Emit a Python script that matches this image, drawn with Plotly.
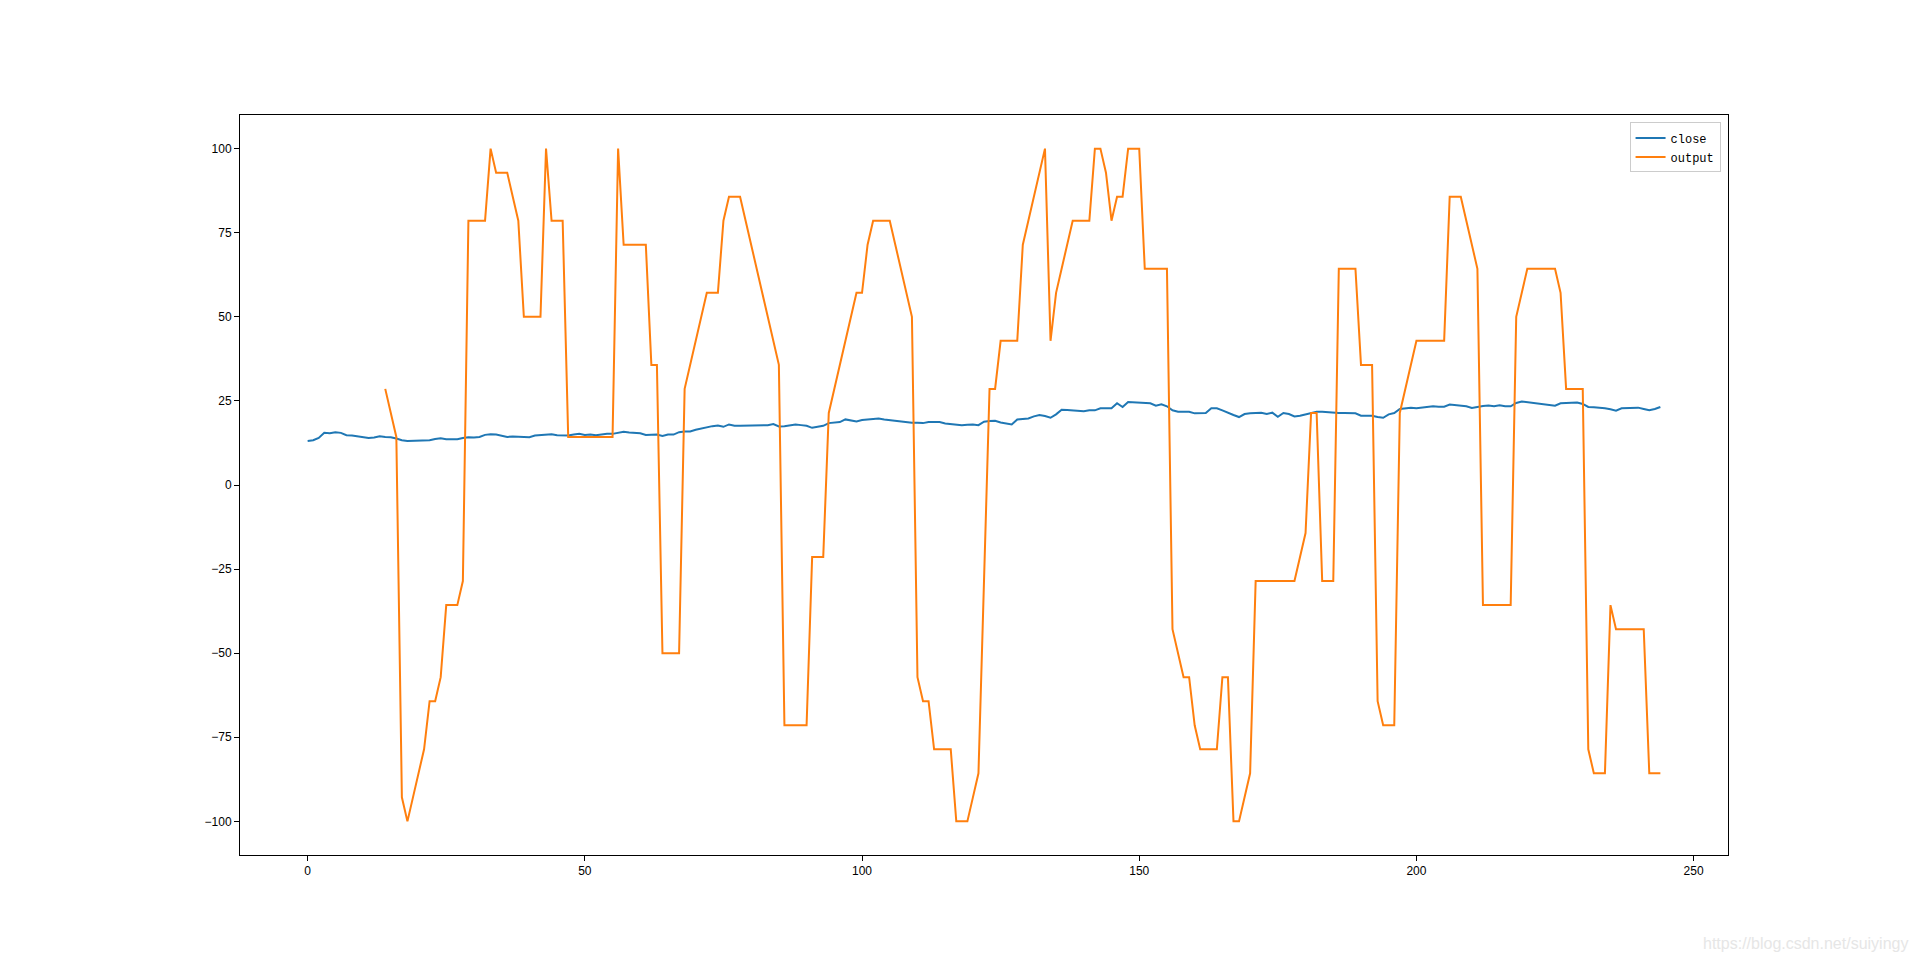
import plotly.graph_objects as go

close_x = list(range(0, 245))
close = [
    13.1, 13.3, 14.0, 15.5, 15.4, 15.7, 15.5, 14.8, 14.7, 14.5,
    14.2, 14.0, 14.1, 14.5, 14.3, 14.2, 13.8, 13.3, 13.1, 13.2,
    13.3, 13.2, 13.3, 13.7, 13.9, 13.6, 13.7, 13.6, 14.0, 14.2,
    14.1, 14.3, 14.9, 15.1, 15.0, 14.6, 14.3, 14.4, 14.4, 14.3,
    14.2, 14.7, 14.8, 14.9, 15.1, 14.8, 14.7, 14.7, 15.0, 15.2,
    14.9, 15.0, 14.8, 15.1, 15.2, 15.2, 15.5, 15.8, 15.6, 15.4,
    15.4, 14.9, 15.0, 15.0, 14.6, 15.0, 15.0, 15.7, 15.9, 15.9,
    16.4, 16.8, 17.3, 17.5, 17.7, 17.3, 18.0, 17.6, 17.6, 17.6,
    17.7, 17.7, 17.6, 17.8, 18.1, 17.4, 17.5, 17.7, 18.0, 17.8,
    17.6, 17.0, 17.2, 17.6, 18.4, 18.6, 18.7, 19.5, 19.2, 18.9,
    19.3, 19.5, 19.5, 19.8, 19.5, 19.3, 19.0, 18.7, 18.6, 18.5,
    18.5, 18.4, 18.7, 18.6, 18.7, 18.3, 18.1, 17.9, 17.8, 17.9,
    18.0, 17.8, 18.8, 19.0, 19.1, 18.6, 18.3, 18.0, 19.5, 19.6,
    19.8, 20.4, 20.8, 20.5, 20.0, 21.0, 22.4, 22.3, 22.2, 22.0,
    21.9, 22.2, 22.2, 22.8, 22.7, 22.8, 24.3, 23.2, 24.7, 24.6,
    24.5, 24.6, 24.3, 23.6, 24.0, 23.4, 22.2, 21.8, 21.9, 21.8,
    21.3, 21.4, 21.4, 22.8, 22.8, 22.2, 21.4, 20.8, 20.2, 21.1,
    21.3, 21.4, 21.5, 21.1, 21.5, 20.3, 21.4, 21.1, 20.4, 20.6,
    21.0, 21.4, 21.8, 21.8, 21.6, 21.4, 21.4, 21.4, 21.4, 21.3,
    20.6, 20.6, 20.6, 20.2, 20.0, 21.0, 21.4, 22.6, 22.9, 23.0,
    22.8, 23.0, 23.2, 23.4, 23.3, 23.3, 23.9, 23.7, 23.4, 23.4,
    22.9, 23.3, 23.5, 23.6, 23.4, 23.7, 23.4, 23.4, 24.4, 24.8,
    24.6, 24.4, 24.1, 23.9, 23.9, 23.6, 24.3, 24.3, 24.4, 24.5,
    24.1, 23.2, 23.1, 23.0, 22.8, 22.5, 22.1, 22.8, 22.8, 22.8,
    23.0, 22.6, 22.2, 22.6, 23.2,
]

output_x = list(range(14, 245))
output = [
    28.57, 21.43, 14.29, -92.86, -100.0, -92.86, -85.71, -78.57, -64.29, -64.29,    # 14-23
    -57.14, -35.71, -35.71, -35.71, -28.57, 78.57, 78.57, 78.57, 78.57, 100.0,      # 24-33
    92.86, 92.86, 92.86, 85.71, 78.57, 50.0, 50.0, 50.0, 50.0, 100.0,               # 34-43
    78.57, 78.57, 78.57, 14.29, 14.29, 14.29, 14.29, 14.29, 14.29, 14.29,           # 44-53
    14.29, 14.29, 100.0, 71.43, 71.43, 71.43, 71.43, 71.43, 35.71, 35.71,           # 54-63
    -50.0, -50.0, -50.0, -50.0, 28.57, 35.71, 42.86, 50.0, 57.14, 57.14,            # 64-73
    57.14, 78.57, 85.71, 85.71, 85.71, 78.57, 71.43, 64.29, 57.14, 50.0,            # 74-83
    42.86, 35.71, -71.43, -71.43, -71.43, -71.43, -71.43, -21.43, -21.43, -21.43,   # 84-93
    21.43, 28.57, 35.71, 42.86, 50.0, 57.14, 57.14, 71.43, 78.57, 78.57,            # 94-103
    78.57, 78.57, 71.43, 64.29, 57.14, 50.0, -57.14, -64.29, -64.29, -78.57,        # 104-113
    -78.57, -78.57, -78.57, -100.0, -100.0, -100.0, -92.86, -85.71, -28.57, 28.57,  # 114-123
    28.57, 42.86, 42.86, 42.86, 42.86, 71.43, 78.57, 85.71, 92.86, 100.0,           # 124-133
    42.86, 57.14, 64.29, 71.43, 78.57, 78.57, 78.57, 78.57, 100.0, 100.0,           # 134-143
    92.86, 78.57, 85.71, 85.71, 100.0, 100.0, 100.0, 64.29, 64.29, 64.29,           # 144-153
    64.29, 64.29, -42.86, -50.0, -57.14, -57.14, -71.43, -78.57, -78.57, -78.57,    # 154-163
    -78.57, -57.14, -57.14, -100.0, -100.0, -92.86, -85.71, -28.57, -28.57, -28.57, # 164-173
    -28.57, -28.57, -28.57, -28.57, -28.57, -21.43, -14.29, 21.43, 21.43, -28.57,   # 174-183
    -28.57, -28.57, 64.29, 64.29, 64.29, 64.29, 35.71, 35.71, 35.71, -64.29,        # 184-193
    -71.43, -71.43, -71.43, 21.43, 28.57, 35.71, 42.86, 42.86, 42.86, 42.86,        # 194-203
    42.86, 42.86, 85.71, 85.71, 85.71, 78.57, 71.43, 64.29, -35.71, -35.71,         # 204-213
    -35.71, -35.71, -35.71, -35.71, 50.0, 57.14, 64.29, 64.29, 64.29, 64.29,        # 214-223
    64.29, 64.29, 57.14, 28.57, 28.57, 28.57, 28.57, -78.57, -85.71, -85.71,        # 224-233
    -85.71, -35.71, -42.86, -42.86, -42.86, -42.86, -42.86, -42.86, -85.71, -85.71, # 234-243
    -85.71,                                                                          # 244
]

x_ticks = [0, 50, 100, 150, 200, 250]
y_ticks = [-100, -75, -50, -25, 0, 25, 50, 75, 100]
y_ticktext = [("\u2212" + str(-v)) if v < 0 else str(v) for v in y_ticks]

fig = go.Figure()
fig.add_trace(go.Scatter(x=close_x, y=close, mode="lines", name="close",
                         line=dict(color="#1f77b4", width=2)))
fig.add_trace(go.Scatter(x=output_x, y=output, mode="lines", name="output",
                         line=dict(color="#ff7f0e", width=2)))

axis_common = dict(showgrid=False, zeroline=False, showline=True, linecolor="black",
                   linewidth=1, mirror=True, ticks="outside", ticklen=5, tickwidth=1,
                   tickcolor="black", tickfont=dict(family="Liberation Sans, Arial, sans-serif",
                                                    size=12, color="black"))

fig.update_layout(
    width=1920, height=961,
    paper_bgcolor="white", plot_bgcolor="white",
    margin=dict(l=232, r=200, t=107, b=114),
    xaxis=dict(range=[-12.2, 256.2], tickvals=x_ticks, **axis_common),
    yaxis=dict(range=[-110, 110], tickvals=y_ticks, ticktext=y_ticktext, **axis_common),
    showlegend=True,
    legend=dict(x=0.995, y=0.99, xanchor="right", yanchor="top",
                bgcolor="rgba(255,255,255,0.8)", bordercolor="#cccccc", borderwidth=1,
                font=dict(family="Liberation Mono, DejaVu Sans Mono, monospace", size=12, color="black"),
                itemwidth=30, tracegroupgap=0),
    annotations=[dict(text="https://blog.csdn.net/suiyingy", xref="paper", yref="paper",
                      x=1.122, y=-0.119, xanchor="right", yanchor="middle", showarrow=False,
                      font=dict(family="Liberation Sans, Arial, sans-serif", size=16, color="#e6e6e6"))],
)

fig.write_html("out.html")
